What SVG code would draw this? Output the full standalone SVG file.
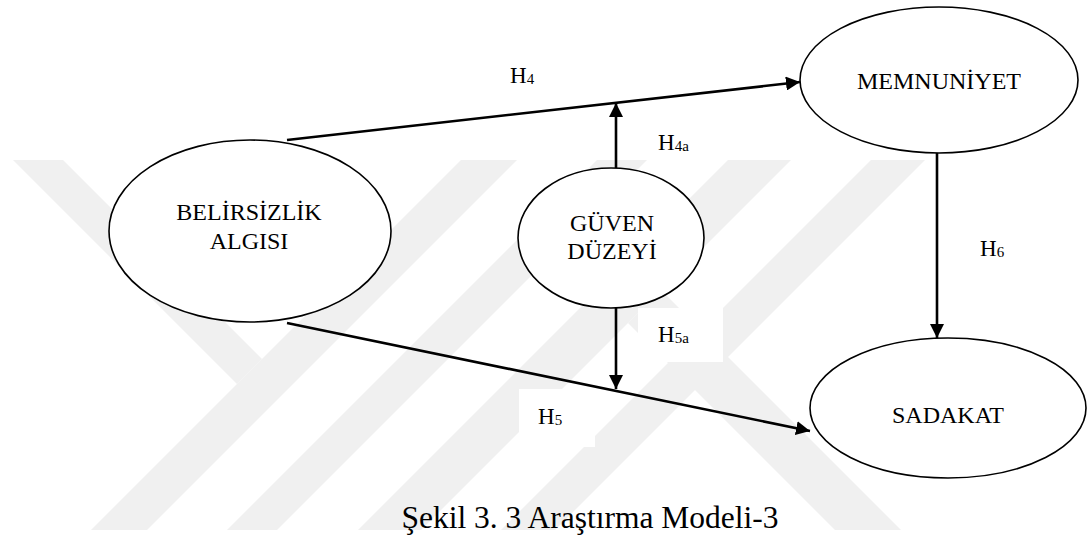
<svg xmlns="http://www.w3.org/2000/svg" width="1088" height="536" viewBox="0 0 1088 536">
  <style>
    .wm { fill: #f0f0f0; }
    .node { fill: #ffffff; stroke: #000000; stroke-width: 1.6; }
    .t { font-family: "Liberation Serif", "Times New Roman", serif; font-size: 24px; fill: #000000; text-anchor: middle; }
    .lab { font-family: "Liberation Serif", "Times New Roman", serif; font-size: 23px; fill: #000000; }
    .sub { font-size: 15px; }
    .edge { stroke: #000000; stroke-width: 2.6; fill: none; }
    .cap { font-family: "Liberation Serif", "Times New Roman", serif; font-size: 31.5px; fill: #000000; text-anchor: middle; }
  </style>
  <defs>
    <marker id="arr" viewBox="0 0 10 10" refX="10" refY="5" markerWidth="5.4" markerHeight="5.4" markerUnits="strokeWidth" orient="auto">
      <path d="M0,0 L10,5 L0,10 z" fill="#000000"/>
    </marker>
  </defs>
  <rect x="0" y="0" width="1088" height="536" fill="#ffffff"/>
  <g id="watermark">
    <polygon class="wm" points="13,160 63,160 262,359 237,384"/>
    <polygon class="wm" points="461,160 517,160 147,530 91,530"/>
    <polygon class="wm" points="597,160 647,160 277,530 227,530"/>
    <polygon class="wm" points="728,160 791,160 421,530 358,530"/>
    <polygon class="wm" points="871,160 925,160 555,530 501,530"/>
    <polygon class="wm" points="628,323 661,290 901,530 835,530"/>
  </g>
  <g id="label-boxes">
    <rect x="519" y="389" width="76" height="58" fill="#ffffff"/>
    <rect x="638" y="308" width="85" height="54" fill="#ffffff"/>
  </g>
  <g id="connectors">
    <line class="edge" x1="287" y1="140" x2="800" y2="82" marker-end="url(#arr)"/>
    <line class="edge" x1="616" y1="168" x2="616" y2="103" marker-end="url(#arr)"/>
    <line class="edge" x1="287" y1="323" x2="810" y2="431" marker-end="url(#arr)"/>
    <line class="edge" x1="616" y1="308" x2="616" y2="389" marker-end="url(#arr)"/>
    <line class="edge" x1="937" y1="153" x2="937" y2="338" marker-end="url(#arr)"/>
  </g>
  <g id="belirsizlik">
    <ellipse class="node" cx="250" cy="231" rx="141" ry="91"/>
    <text class="t" x="249" y="220">BELİRSİZLİK</text>
    <text class="t" x="249" y="249">ALGISI</text>
  </g>
  <g id="memnuniyet">
    <ellipse class="node" cx="939" cy="80" rx="139" ry="73"/>
    <text class="t" x="939" y="89">MEMNUNİYET</text>
  </g>
  <g id="guven">
    <ellipse class="node" cx="611" cy="238" rx="93" ry="70"/>
    <text class="t" x="612" y="231">GÜVEN</text>
    <text class="t" x="612" y="259">DÜZEYİ</text>
  </g>
  <g id="sadakat">
    <ellipse class="node" cx="948" cy="408" rx="138" ry="70"/>
    <text class="t" x="948" y="423">SADAKAT</text>
  </g>
  <g id="labels">
    <text class="lab" x="510" y="83">H<tspan class="sub" dy="1">4</tspan></text>
    <text class="lab" x="658" y="150">H<tspan class="sub" dy="1">4a</tspan></text>
    <text class="lab" x="980" y="256">H<tspan class="sub" dy="1">6</tspan></text>
    <text class="lab" x="658" y="342">H<tspan class="sub" dy="1">5a</tspan></text>
    <text class="lab" x="538" y="424">H<tspan class="sub" dy="1">5</tspan></text>
  </g>
  <text class="cap" x="590" y="528">Şekil 3. 3 Araştırma Modeli-3</text>
</svg>
